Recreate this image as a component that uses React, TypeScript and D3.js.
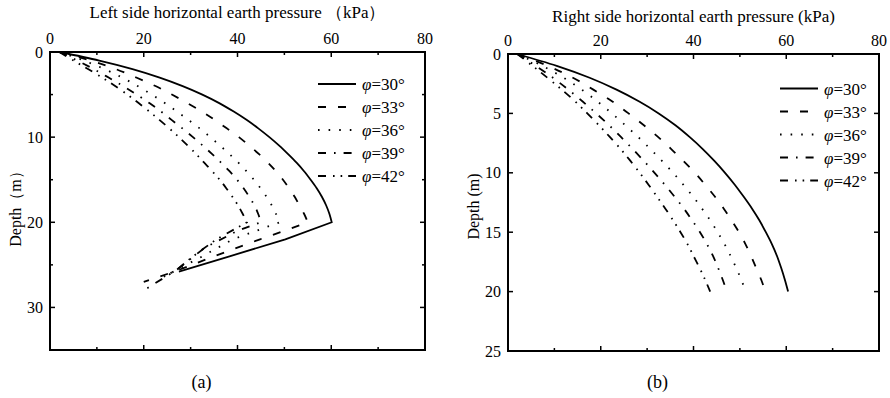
import React from "react";
import * as d3 from "d3";

// depth points (m) down to the excavation level
const depthUpper = [0, 1, 2, 3, 4, 5, 6, 7, 8, 9, 10, 11, 12, 13, 14, 15, 16, 17, 18, 19, 20];

// right side horizontal earth pressure (kPa)
const right30 = [2, 10.5, 17.6, 23.4, 28.3, 32.5, 36.1, 39.2, 42.0, 44.5, 46.8, 48.9, 50.8, 52.6, 54.2, 55.6, 56.9, 58.0, 58.9, 59.7, 60.4];
const right33 = [2, 8.6, 14.0, 18.4, 22.5, 26.0, 29.3, 32.4, 35.2, 37.8, 40.3, 42.5, 44.6, 46.5, 48.2, 49.8, 51.2, 52.4, 53.5, 54.6, 55.5];
const right36 = [2, 7.4, 12.0, 15.9, 19.3, 22.4, 25.3, 28.1, 30.7, 33.2, 35.6, 37.8, 39.9, 41.8, 43.6, 45.2, 46.7, 48.0, 49.2, 50.3, 51.3];
const right39 = [2, 6.0, 9.7, 13.0, 16.1, 19.0, 21.8, 24.4, 26.9, 29.3, 31.6, 33.8, 35.9, 37.9, 39.7, 41.4, 42.9, 44.2, 45.3, 46.3, 47.2];
const right42 = [2, 5.3, 8.5, 11.6, 14.5, 17.1, 19.6, 22.0, 24.3, 26.4, 28.4, 30.3, 32.1, 33.9, 35.6, 37.2, 38.7, 40.0, 41.3, 42.5, 43.6];

// left side, above excavation level
const left30 = [2, 10.5, 17.6, 23.4, 28.3, 32.5, 36.1, 39.2, 42.0, 44.5, 46.8, 48.9, 50.8, 52.6, 54.2, 55.6, 56.9, 58.0, 58.9, 59.6, 60.1];
const left33 = [2, 8.6, 14.0, 18.4, 22.5, 26.0, 29.3, 32.4, 35.2, 37.8, 40.3, 42.5, 44.6, 46.5, 48.2, 49.7, 51.0, 52.2, 53.2, 54.2, 55.0];
const left36 = [2, 7.2, 11.6, 15.4, 18.7, 21.7, 24.5, 27.1, 29.6, 32.0, 34.2, 36.3, 38.3, 40.2, 41.9, 43.5, 44.9, 46.2, 47.3, 48.2, 49.0];
const left39 = [2, 5.8, 9.3, 12.5, 15.6, 18.5, 21.2, 23.7, 26.0, 28.3, 30.5, 32.6, 34.6, 36.5, 38.3, 39.9, 41.3, 42.5, 43.6, 44.4, 45.0];
const left42 = [2, 5.0, 8.1, 11.1, 13.9, 16.5, 18.9, 21.2, 23.4, 25.5, 27.5, 29.4, 31.2, 32.9, 34.6, 36.2, 37.6, 38.9, 40.1, 41.1, 42.0];

// left side, below excavation level
const left30LowDepth = [22, 24, 25.8];
const left30Low = [50.2, 38.3, 27.5];
const left33LowDepth = [21, 22, 24, 25.7, 27];
const left33Low = [50.0, 44.8, 35.0, 27.0, 20.0];
const left36LowDepth = [21, 22, 24, 25.6, 26.2];
const left36Low = [44.0, 39.0, 32.5, 27.0, 25.0];
const left39LowDepth = [21, 23, 25.6, 28];
const left39Low = [40.0, 33.0, 27.0, 20.0];
const left42LowDepth = [22, 24, 25.6, 26.6];
const left42Low = [35.5, 30.5, 27.0, 23.5];

const legendLabels = ["30°", "33°", "36°", "39°", "42°"];
const dashes = ["none", "8,12", "1.6,9", "8,8,1.6,8", "8,7,1.6,6,1.6,6"];

const xTicks = [0, 20, 40, 60, 80];
const xMinor = [10, 30, 50, 70];
const leftDepthTicks = [0, 10, 20, 30];
const leftDepthMinor = [5, 15, 25];
const rightDepthTicks = [0, 5, 10, 15, 20, 25];

const FONT = "Liberation Serif, DejaVu Serif, serif";

type Series = { up: number[]; lowD: number[]; low: number[] };

function Panel(props: {
  x0: number; x1: number; y0: number; y1: number; yMax: number;
  yTicks: number[]; yMinor: number[]; title: string; titleY: number;
  yLabel: string; yLabelX: number; caption: string; series: Series[];
  legX: number; legY: number;
}) {
  const p = props;
  const x = d3.scaleLinear().domain([0, 80]).range([p.x0, p.x1]);
  const y = d3.scaleLinear().domain([0, p.yMax]).range([p.y0, p.y1]);
  const smooth = d3
    .line<[number, number]>()
    .x((d) => x(d[0]))
    .y((d) => y(d[1]))
    .curve(d3.curveMonotoneY);
  const straight = d3
    .line<[number, number]>()
    .x((d) => x(d[0]))
    .y((d) => y(d[1]));
  const cx = (p.x0 + p.x1) / 2;
  const cy = (p.y0 + p.y1) / 2;

  return (
    <g fontFamily={FONT} fill="#000">
      <text x={cx} y={p.titleY} textAnchor="middle" fontSize={17}>{p.title}</text>
      <text
        transform={`translate(${p.yLabelX},${cy + 4}) rotate(-90)`}
        textAnchor="middle"
        fontSize={16}
      >
        {p.yLabel}
      </text>
      <text x={cx - 36} y={388} textAnchor="middle" fontSize={18}>{p.caption}</text>

      {p.series.map((s, i) => {
        const up: [number, number][] = s.up.map((v, k) => [v, depthUpper[k]]);
        let path = smooth(up) || "";
        if (s.low.length) {
          const low: [number, number][] = [up[up.length - 1], ...s.low.map((v, k) => [v, s.lowD[k]] as [number, number])];
          path += (straight(low) || "").replace(/^M/, "L");
        }
        return (
          <path key={i} d={path} fill="none" stroke="#000" strokeWidth={1.8} strokeDasharray={dashes[i]} />
        );
      })}

      {xTicks.map((t) => (
        <g key={"x" + t}>
          <line x1={x(t)} x2={x(t)} y1={p.y0} y2={p.y0 + 5} stroke="#000" strokeWidth={1.5} />
          <line x1={x(t)} x2={x(t)} y1={p.y1} y2={p.y1 - 5} stroke="#000" strokeWidth={1.5} />
          <text x={x(t)} y={p.y0 - 8} textAnchor="middle" fontSize={16}>{t}</text>
        </g>
      ))}
      {xMinor.map((t) => (
        <g key={"xm" + t}>
          <line x1={x(t)} x2={x(t)} y1={p.y0} y2={p.y0 + 3} stroke="#000" strokeWidth={1.5} />
          <line x1={x(t)} x2={x(t)} y1={p.y1} y2={p.y1 - 3} stroke="#000" strokeWidth={1.5} />
        </g>
      ))}
      {p.yTicks.map((t) => (
        <g key={"y" + t}>
          <line x1={p.x0} x2={p.x0 + 5} y1={y(t)} y2={y(t)} stroke="#000" strokeWidth={1.5} />
          <line x1={p.x1} x2={p.x1 - 5} y1={y(t)} y2={y(t)} stroke="#000" strokeWidth={1.5} />
          <text x={p.x0 - 7} y={y(t) + 5.5} textAnchor="end" fontSize={16}>{t}</text>
        </g>
      ))}
      {p.yMinor.map((t) => (
        <g key={"ym" + t}>
          <line x1={p.x0} x2={p.x0 + 3} y1={y(t)} y2={y(t)} stroke="#000" strokeWidth={1.5} />
          <line x1={p.x1} x2={p.x1 - 3} y1={y(t)} y2={y(t)} stroke="#000" strokeWidth={1.5} />
        </g>
      ))}
      <rect x={p.x0} y={p.y0} width={p.x1 - p.x0} height={p.y1 - p.y0} fill="none" stroke="#000" strokeWidth={2} />

      {legendLabels.map((lab, i) => {
        const ly = p.legY + i * 23;
        return (
          <g key={"l" + i}>
            <line x1={p.legX} x2={p.legX + 38} y1={ly} y2={ly} stroke="#000" strokeWidth={1.8} strokeDasharray={dashes[i]} />
            <text x={p.legX + 44} y={ly + 6} fontSize={17}>
              <tspan fontStyle="italic">φ</tspan>={lab}
            </text>
          </g>
        );
      })}
    </g>
  );
}

export default function App() {
  const leftSeries: Series[] = [
    { up: left30, lowD: left30LowDepth, low: left30Low },
    { up: left33, lowD: left33LowDepth, low: left33Low },
    { up: left36, lowD: left36LowDepth, low: left36Low },
    { up: left39, lowD: left39LowDepth, low: left39Low },
    { up: left42, lowD: left42LowDepth, low: left42Low },
  ];
  const rightSeries: Series[] = [right30, right33, right36, right39, right42].map((up) => ({ up, lowD: [], low: [] }));

  return (
    <div style={{ position: "absolute", left: 0, top: 0 }}>
      <svg width={890} height={398} style={{ display: "block", background: "#fff" }}>
        <Panel
          x0={50} x1={425} y0={52} y1={350} yMax={35}
          yTicks={leftDepthTicks} yMinor={leftDepthMinor}
          title="Left side horizontal earth pressure （kPa）" titleY={18}
          yLabel="Depth（m）" yLabelX={21} caption="(a)" series={leftSeries}
          legX={318} legY={84}
        />
        <Panel
          x0={508} x1={879} y0={54} y1={351} yMax={25}
          yTicks={rightDepthTicks} yMinor={[]}
          title="Right side horizontal earth pressure (kPa)" titleY={22}
          yLabel="Depth (m)" yLabelX={479} caption="(b)" series={rightSeries}
          legX={780} legY={88.5}
        />
      </svg>
    </div>
  );
}
